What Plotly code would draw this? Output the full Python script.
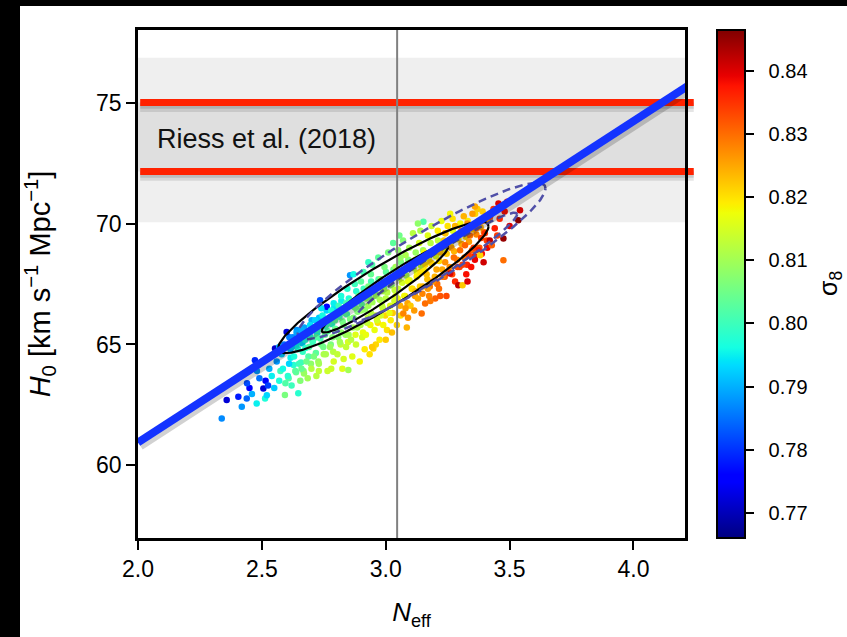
import numpy as np
import plotly.graph_objects as go

# ---------------- data ----------------
# outer / sparse samples
neff = [
    2.338, 2.358, 2.405, 2.419, 2.439, 2.45, 2.472, 2.479, 2.46, 2.49, 2.48, 2.44,
    2.506, 2.513, 2.52, 2.515, 2.53, 2.525, 2.54, 2.553, 2.55, 2.56, 2.57, 2.575, 2.58, 2.585, 2.593, 2.595, 2.6, 2.59, 2.57,
    2.605, 2.61, 2.615, 2.62, 2.625, 2.63, 2.635, 2.64, 2.647, 2.65, 2.655, 2.66, 2.665, 2.67, 2.675, 2.68, 2.685, 2.69, 2.695, 2.70, 2.66, 2.62, 2.69, 2.64,
    2.705, 2.71, 2.715, 2.72, 2.725, 2.73, 2.735, 2.74, 2.745, 2.75, 2.755, 2.762, 2.765, 2.77, 2.775, 2.78, 2.785, 2.79, 2.795, 2.80, 2.72, 2.76, 2.74, 2.79, 2.78, 2.73,
    2.805, 2.81, 2.815, 2.82, 2.825, 2.83, 2.835, 2.84, 2.845, 2.849, 2.85, 2.856, 2.86, 2.865, 2.87, 2.875, 2.88, 2.885, 2.89, 2.895, 2.90, 2.82, 2.84, 2.86, 2.88, 2.83, 2.87, 2.9,
    2.905, 2.91, 2.915, 2.92, 2.925, 2.93, 2.935, 2.94, 2.945, 2.95, 2.955, 2.96, 2.965, 2.97, 2.975, 2.98, 2.985, 2.99, 2.995, 3.00, 2.92, 2.94, 2.96, 2.98, 2.93, 2.97, 2.945, 2.99, 2.93,
    3.005, 3.01, 3.015, 3.02, 3.025, 3.03, 3.035, 3.04, 3.045, 3.05, 3.055, 3.06, 3.065, 3.071, 3.075, 3.08, 3.085, 3.09, 3.095, 3.10, 3.02, 3.04, 3.06, 3.08, 3.00, 3.07, 3.09, 3.1, 3.05,
    3.105, 3.11, 3.115, 3.12, 3.125, 3.13, 3.135, 3.14, 3.145, 3.15, 3.152, 3.155, 3.159, 3.165, 3.17, 3.175, 3.18, 3.185, 3.19, 3.195, 3.2, 3.12, 3.14, 3.16, 3.18, 3.13, 3.17,
    3.205, 3.21, 3.215, 3.22, 3.225, 3.23, 3.235, 3.24, 3.245, 3.25, 3.255, 3.26, 3.265, 3.27, 3.275, 3.28, 3.285, 3.29, 3.293, 3.30, 3.31, 3.22, 3.26, 3.24, 3.28,
    3.305, 3.31, 3.315, 3.32, 3.325, 3.33, 3.335, 3.34, 3.345, 3.35, 3.355, 3.36, 3.365, 3.37, 3.375, 3.381, 3.385, 3.39, 3.395, 3.40, 3.33, 3.36,
    3.405, 3.41, 3.42, 3.421, 3.428, 3.435, 3.44, 3.455, 3.46, 3.475, 3.475, 3.48, 3.49, 3.50, 3.535, 3.542, 3.45,
]
h0 = [
    61.94, 62.70, 62.84, 62.43, 62.77, 63.2, 64.35, 62.56, 62.95, 63.6, 63.9, 63.4,
    63.18, 62.77, 62.9, 63.5, 64.0, 63.3, 63.7, 64.83, 63.2, 64.3, 63.5, 63.9, 64.6, 64.0, 62.91, 63.4, 65.52, 65.0, 64.9,
    63.7, 64.2, 64.8, 63.3, 65.3, 64.5, 63.9, 65.0, 62.98, 64.2, 63.5, 65.6, 64.7, 63.8, 65.2, 64.3, 63.6, 64.9, 65.8, 64.0, 64.0, 64.9, 65.4, 65.5,
    65.1, 64.5, 66.0, 63.7, 65.6, 64.2, 66.83, 65.0, 66.2, 64.6, 65.4, 66.56, 63.9, 65.9, 64.9, 66.4, 65.3, 64.3, 66.0, 65.6, 65.3, 65.8, 66.5, 66.7, 64.0, 63.9,
    64.6, 66.6, 65.1, 67.0, 64.0, 65.8, 66.3, 64.9, 67.3, 63.94, 65.4, 67.86, 66.8, 64.5, 66.1, 67.5, 65.0, 65.7, 67.0, 64.3, 66.4, 65.5, 66.7, 65.2, 66.5, 64.4, 67.9, 67.6,
    65.3, 68.0, 64.8, 66.9, 65.9, 67.4, 64.6, 66.3, 68.3, 64.83, 65.6, 67.0, 66.0, 68.6, 65.2, 67.7, 66.6, 65.8, 68.2, 66.9, 65.4, 67.9, 65.0, 66.2, 66.6, 67.4, 64.9, 67.2, 68.4,
    65.6, 68.8, 66.3, 67.6, 65.5, 69.2, 66.8, 68.2, 65.8, 67.3, 69.5, 66.2, 68.0, 66.28, 67.0, 68.7, 65.7, 67.6, 69.0, 66.6, 66.0, 67.0, 68.6, 66.5, 65.2, 69.3, 66.1, 68.2, 68.9,
    67.3, 69.6, 66.4, 68.5, 67.8, 66.9, 69.2, 68.0, 66.28, 67.4, 70.07, 68.8, 66.69, 67.9, 69.5, 67.0, 68.4, 69.9, 67.6, 68.9, 66.9, 67.2, 69.7, 68.3, 66.8, 70.0, 67.3,
    68.1, 69.7, 67.3, 68.8, 70.1, 67.8, 69.3, 68.4, 67.0, 69.9, 68.0, 67.93, 69.0, 70.2, 68.6, 67.6, 69.5, 68.2, 67.45, 68.9, 67.45, 67.0, 70.4, 69.6, 69.9,
    69.7, 68.3, 70.3, 69.1, 67.9, 70.0, 68.7, 69.5, 68.2, 70.4, 69.0, 68.5, 69.8, 70.6, 68.9, 68.69, 69.4, 70.1, 68.4, 69.6, 67.6, 70.7,
    70.3, 69.0, 69.3, 70.28, 69.10, 70.6, 69.8, 70.83, 70.2, 68.48, 69.38, 70.5, 70.9, 69.9, 70.14, 70.55, 69.5,
]
sigma8 = [
    0.787, 0.772, 0.778, 0.788, 0.784, 0.776, 0.779, 0.795, 0.790, 0.785, 0.788, 0.782,
    0.772, 0.797, 0.793, 0.776, 0.790, 0.781, 0.795, 0.771, 0.792, 0.788, 0.797, 0.800, 0.792, 0.796, 0.806, 0.802, 0.772, 0.785, 0.790,
    0.798, 0.793, 0.790, 0.800, 0.787, 0.797, 0.803, 0.795, 0.798, 0.800, 0.807, 0.790, 0.799, 0.809, 0.797, 0.805, 0.810, 0.802, 0.794, 0.812, 0.804, 0.792, 0.799, 0.789,
    0.800, 0.806, 0.793, 0.812, 0.799, 0.810, 0.782, 0.805, 0.796, 0.811, 0.804, 0.775, 0.814, 0.801, 0.809, 0.797, 0.807, 0.815, 0.803, 0.806, 0.802, 0.800, 0.794, 0.795, 0.814, 0.813,
    0.813, 0.800, 0.810, 0.797, 0.816, 0.806, 0.803, 0.813, 0.798, 0.810, 0.810, 0.788, 0.802, 0.816, 0.807, 0.800, 0.814, 0.811, 0.804, 0.818, 0.809, 0.808, 0.801, 0.812, 0.806, 0.815, 0.796, 0.803,
    0.815, 0.801, 0.819, 0.808, 0.813, 0.806, 0.820, 0.812, 0.802, 0.821, 0.817, 0.809, 0.815, 0.803, 0.819, 0.808, 0.813, 0.818, 0.806, 0.812, 0.817, 0.804, 0.821, 0.815, 0.810, 0.809, 0.822, 0.811, 0.799,
    0.820, 0.806, 0.817, 0.811, 0.823, 0.803, 0.815, 0.810, 0.821, 0.814, 0.805, 0.820, 0.813, 0.828, 0.818, 0.811, 0.824, 0.817, 0.810, 0.822, 0.819, 0.816, 0.809, 0.826, 0.822, 0.807, 0.827, 0.815, 0.808,
    0.820, 0.812, 0.826, 0.816, 0.819, 0.825, 0.815, 0.820, 0.830, 0.824, 0.802, 0.818, 0.830, 0.823, 0.816, 0.828, 0.822, 0.814, 0.827, 0.820, 0.831, 0.823, 0.811, 0.821, 0.829, 0.808, 0.826,
    0.825, 0.819, 0.830, 0.823, 0.817, 0.829, 0.822, 0.827, 0.833, 0.820, 0.831, 0.840, 0.826, 0.820, 0.830, 0.836, 0.825, 0.833, 0.842, 0.830, 0.822, 0.832, 0.818, 0.823, 0.824,
    0.828, 0.834, 0.824, 0.831, 0.838, 0.827, 0.834, 0.830, 0.838, 0.826, 0.834, 0.839, 0.830, 0.822, 0.837, 0.821, 0.834, 0.829, 0.841, 0.835, 0.840, 0.825,
    0.832, 0.839, 0.842, 0.833, 0.831, 0.835, 0.837, 0.840, 0.836, 0.830, 0.845, 0.838, 0.837, 0.840, 0.846, 0.841, 0.834,
]

# dense core samples along the degeneracy direction
core_neff = [
    2.608, 2.628, 2.616, 2.633, 2.611, 2.638, 2.658, 2.646, 2.663, 2.641, 2.668, 2.688, 2.676, 2.693, 2.671,
    2.698, 2.718, 2.706, 2.723, 2.701, 2.728, 2.748, 2.736, 2.753, 2.731, 2.758, 2.778, 2.766, 2.783, 2.761,
    2.788, 2.808, 2.796, 2.813, 2.791, 2.818, 2.838, 2.826, 2.843, 2.821, 2.848, 2.868, 2.856, 2.873, 2.851,
    2.878, 2.898, 2.886, 2.903, 2.881, 2.908, 2.928, 2.916, 2.933, 2.911, 2.938, 2.958, 2.946, 2.963, 2.941,
    2.968, 2.988, 2.976, 2.993, 2.971, 2.998, 3.018, 3.006, 3.023, 3.001, 3.028, 3.048, 3.036, 3.053, 3.031,
    3.058, 3.078, 3.066, 3.083, 3.061, 3.088, 3.108, 3.096, 3.113, 3.091, 3.118, 3.138, 3.126, 3.143, 3.121,
    3.148, 3.168, 3.156, 3.173, 3.151, 3.178, 3.198, 3.186, 3.203, 3.181, 3.208, 3.228, 3.216, 3.233, 3.211,
    3.238, 3.258, 3.246, 3.263, 3.241, 3.268, 3.288, 3.276, 3.293, 3.271, 3.298, 3.318, 3.306, 3.323, 3.301,
    3.328, 3.348, 3.336, 3.353, 3.331, 3.358, 3.378, 3.366, 3.383, 3.361, 3.388, 3.408, 3.396, 3.413, 3.391,
]
core_h0 = [
    63.6, 64.15, 64.45, 64.95, 65.3, 63.85, 64.25, 64.8, 65.05, 65.6, 63.9, 64.5, 64.85, 65.35, 65.7,
    64.2, 64.65, 65.15, 65.45, 66.0, 64.3, 64.9, 65.25, 65.75, 66.1, 64.6, 65.0, 65.55, 65.85, 66.4,
    64.7, 65.3, 65.65, 66.15, 66.5, 65.0, 65.4, 65.95, 66.25, 66.8, 65.1, 65.7, 66.05, 66.55, 66.9,
    65.4, 65.8, 66.35, 66.65, 67.2, 65.5, 66.1, 66.45, 66.95, 67.3, 65.8, 66.2, 66.75, 67.05, 67.6,
    65.9, 66.5, 66.85, 67.35, 67.7, 66.2, 66.6, 67.15, 67.45, 68.0, 66.3, 66.9, 67.25, 67.75, 68.1,
    66.6, 67.0, 67.55, 67.85, 68.4, 66.7, 67.3, 67.65, 68.15, 68.5, 67.0, 67.4, 67.95, 68.25, 68.8,
    67.1, 67.7, 68.05, 68.55, 68.9, 67.4, 67.8, 68.35, 68.65, 69.2, 67.5, 68.1, 68.45, 68.95, 69.3,
    67.8, 68.2, 68.75, 69.05, 69.6, 67.9, 68.5, 68.85, 69.35, 69.7, 68.2, 68.6, 69.15, 69.45, 70.0,
    68.3, 68.9, 69.25, 69.75, 70.1, 68.65, 69.0, 69.55, 69.85, 70.4, 68.75, 69.3, 69.65, 70.15, 70.5,
]
core_sigma8 = [
    0.802, 0.798, 0.795, 0.792, 0.786, 0.804, 0.800, 0.797, 0.793, 0.788, 0.806, 0.802, 0.798, 0.795, 0.789,
    0.808, 0.803, 0.800, 0.796, 0.790, 0.809, 0.805, 0.801, 0.797, 0.792, 0.811, 0.806, 0.802, 0.798, 0.793,
    0.812, 0.807, 0.803, 0.800, 0.794, 0.813, 0.809, 0.805, 0.801, 0.795, 0.815, 0.810, 0.806, 0.802, 0.797,
    0.816, 0.811, 0.807, 0.803, 0.798, 0.817, 0.813, 0.808, 0.805, 0.800, 0.818, 0.814, 0.810, 0.806, 0.801,
    0.820, 0.815, 0.811, 0.807, 0.802, 0.821, 0.816, 0.812, 0.808, 0.803, 0.822, 0.818, 0.813, 0.809, 0.805,
    0.824, 0.819, 0.815, 0.811, 0.806, 0.825, 0.820, 0.816, 0.812, 0.807, 0.826, 0.821, 0.817, 0.813, 0.809,
    0.828, 0.823, 0.819, 0.815, 0.810, 0.829, 0.824, 0.820, 0.816, 0.812, 0.830, 0.825, 0.821, 0.817, 0.813,
    0.832, 0.827, 0.822, 0.819, 0.815, 0.833, 0.828, 0.824, 0.820, 0.816, 0.834, 0.829, 0.825, 0.821, 0.818,
    0.836, 0.831, 0.826, 0.823, 0.819, 0.837, 0.832, 0.828, 0.824, 0.821, 0.838, 0.834, 0.829, 0.826, 0.822,
]
assert len(neff) == len(h0) == len(sigma8), (len(neff), len(h0), len(sigma8))
assert len(core_neff) == len(core_h0) == len(core_sigma8), (len(core_neff), len(core_h0), len(core_sigma8))

fit_neff = [2.0, 4.25]
fit_h0 = [60.95, 75.89]

riess_outer = [70.05, 76.85]
riess_inner = [72.15, 75.0]
riess_label = "Riess et al. (2018)"
neff_standard = 3.046

# contours: centre N, centre H0, half-length in N, slope, half-width in H0
solid_contours = [(2.99, 67.36, 0.425, 5.95, 1.0), (2.997, 67.30, 0.255, 6.77, 0.53)]
dashed_contours = [(3.145, 68.45, 0.50, 6.0, 1.2), (3.20, 68.2, 0.33, 6.6, 0.55)]

xticks = [2.0, 2.5, 3.0, 3.5, 4.0]
yticks = [60, 65, 70, 75]
cticks = [0.77, 0.78, 0.79, 0.80, 0.81, 0.82, 0.83, 0.84]
c_range = [0.766, 0.8465]
x_range = [2.0, 4.208]
y_range = [57.0, 78.0]

# matplotlib-like jet
jet = [
    [0.0, 'rgb(0,0,128)'], [0.11, 'rgb(0,0,255)'], [0.125, 'rgb(0,0,255)'],
    [0.34, 'rgb(0,219,255)'], [0.35, 'rgb(0,230,247)'], [0.375, 'rgb(21,255,226)'],
    [0.64, 'rgb(239,255,8)'], [0.65, 'rgb(247,245,0)'], [0.66, 'rgb(255,236,0)'],
    [0.89, 'rgb(255,19,0)'], [0.91, 'rgb(232,0,0)'], [1.0, 'rgb(128,0,0)'],
]

FONT = 'Liberation Sans'
NBSP = '\u00a0'


def ellipse(cn, ch, a, s, b):
    t = np.linspace(0, 2 * np.pi, 240)
    n = cn + a * np.cos(t)
    h = ch + s * a * np.cos(t) + b * np.sin(t)
    return n, h


all_n = core_neff + neff
all_h = core_h0 + h0
all_s = core_sigma8 + sigma8

fig = go.Figure()

fig.add_trace(go.Scatter(
    x=all_n, y=all_h, mode='markers',
    marker=dict(
        color=all_s, colorscale=jet, cmin=c_range[0], cmax=c_range[1], size=6.5,
        line=dict(width=0), showscale=True,
        colorbar=dict(
            thickness=28, len=1.0, lenmode='fraction', x=(717 - 138) / 547, xanchor='left',
            y=0.5, yanchor='middle', xpad=0, ypad=0,
            outlinewidth=2, outlinecolor='black',
            ticks='outside', ticklen=8, tickwidth=2, tickcolor='black',
            tickvals=cticks, ticktext=[NBSP * 2 + f'{v:.2f}' for v in cticks],
            tickfont=dict(family=FONT, size=20, color='black'),
        ),
    ),
    hoverinfo='skip',
))

# vertical standard N_eff line
fig.add_trace(go.Scatter(x=[neff_standard, neff_standard], y=y_range, mode='lines',
                         line=dict(color='#808080', width=2), hoverinfo='skip'))

for c in solid_contours:
    n, h = ellipse(*c)
    fig.add_trace(go.Scatter(x=n, y=h, mode='lines', line=dict(color='black', width=2.2), hoverinfo='skip'))
for c in dashed_contours:
    n, h = ellipse(*c)
    fig.add_trace(go.Scatter(x=n, y=h, mode='lines', line=dict(color='#5050a8', width=2.5, dash='8px,5px'),
                             hoverinfo='skip'))

# blue fit line with a soft shadow
sh_dx, sh_dy = 0.008, 0.12
fig.add_trace(go.Scatter(x=[v + sh_dx for v in fit_neff], y=[v - sh_dy for v in fit_h0], mode='lines',
                         line=dict(color='rgba(0,0,0,0.18)', width=10), hoverinfo='skip'))
fig.add_trace(go.Scatter(x=fit_neff, y=fit_h0, mode='lines',
                         line=dict(color='#1433ff', width=8), hoverinfo='skip'))

shapes = [
    dict(type='rect', xref='paper', yref='y', x0=0, x1=1, y0=riess_outer[0], y1=riess_outer[1],
         fillcolor='#efefef', line=dict(width=0), layer='below'),
    dict(type='rect', xref='paper', yref='y', x0=0, x1=1, y0=riess_inner[0], y1=riess_inner[1],
         fillcolor='#dfdfdf', line=dict(width=0), layer='below'),
]
for v in riess_inner:
    shapes.append(dict(type='line', xref='paper', yref='y', x0=0.004, x1=1.016, y0=v - 0.2, y1=v - 0.2,
                       line=dict(color='rgba(0,0,0,0.10)', width=9), layer='between'))
    shapes.append(dict(type='line', xref='paper', yref='y', x0=0.004, x1=1.016, y0=v - 0.11, y1=v - 0.11,
                       line=dict(color='rgba(0,0,0,0.12)', width=7), layer='between'))
    shapes.append(dict(type='line', xref='paper', yref='y', x0=0.004, x1=1.016, y0=v, y1=v,
                       line=dict(color='#ff2200', width=7), layer='between'))

# black page edges of the reference screenshot
shapes.append(dict(type='rect', xref='paper', yref='paper', x0=-138 / 547, x1=-118 / 547,
                   y0=-99 / 508, y1=1 + 30 / 508, fillcolor='black', line=dict(width=0), layer='above'))
shapes.append(dict(type='rect', xref='paper', yref='paper', x0=-138 / 547, x1=709 / 547,
                   y0=1 + 24 / 508, y1=1 + 30 / 508, fillcolor='black', line=dict(width=0), layer='above'))

fig.update_layout(
    width=847, height=637,
    margin=dict(l=138, r=162, t=30, b=99),
    paper_bgcolor='white', plot_bgcolor='white',
    showlegend=False,
    font=dict(family=FONT, color='black'),
    shapes=shapes,
    annotations=[
        dict(text=riess_label, xref='paper', yref='y', x=17 / 547, y=sum(riess_inner) / 2 - 0.08,
             xanchor='left', yanchor='middle', showarrow=False,
             font=dict(family=FONT, size=27, color='#111')),
        dict(text='σ<sub>8</sub>', xref='paper', yref='paper', x=(830 - 138) / 547, y=0.5,
             xanchor='center', yanchor='middle', textangle=-90, showarrow=False,
             font=dict(family=FONT, size=25, color='black')),
    ],
    xaxis=dict(range=x_range, tickvals=xticks, ticktext=[f'{v:.1f}' for v in xticks],
               ticks='outside', ticklen=9, tickwidth=2, tickcolor='black',
               showline=True, linecolor='black', linewidth=2.5, mirror=True,
               showgrid=False, zeroline=False, tickfont=dict(size=23),
               title=dict(text='<i>N</i><sub>eff</sub>', font=dict(size=26), standoff=22)),
    yaxis=dict(range=y_range, tickvals=yticks,
               ticks='outside', ticklen=9, tickwidth=2, tickcolor='black',
               showline=True, linecolor='black', linewidth=2.5, mirror=True,
               showgrid=False, zeroline=False, tickfont=dict(size=23),
               title=dict(text='<i>H</i><sub>0</sub> [km s<sup>−1</sup> Mpc<sup>−1</sup>]',
                          font=dict(size=29), standoff=37)),
)

fig.write_html('out.html')
